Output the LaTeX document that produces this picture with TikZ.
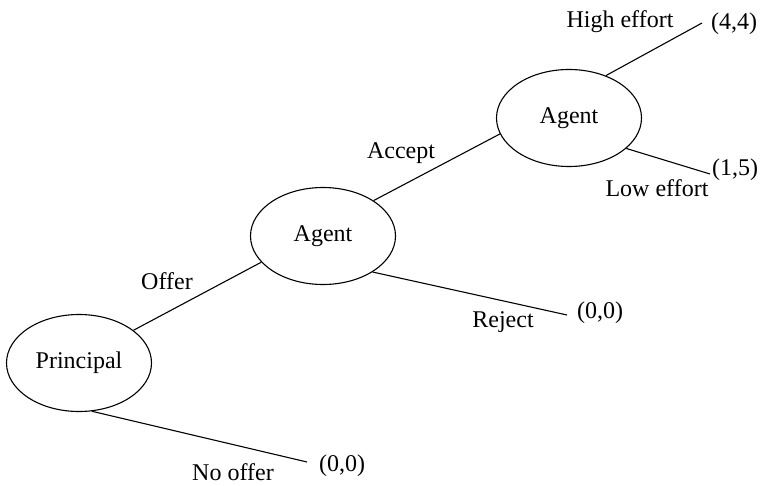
\documentclass[tikz,border=0pt]{standalone}
\usepackage{fontspec}
\setmainfont{Liberation Serif}
\usetikzlibrary{shapes.geometric}
\begin{document}
\begin{tikzpicture}[x=1pt,y=-1pt,
  player/.style={draw,ellipse,line width=1.1pt,minimum width=145pt,minimum height=97pt,inner sep=0pt},
  branch/.style={line width=1.1pt},
  lbl/.style={inner sep=0pt},
  every node/.style={font=\fontsize{24}{28}\selectfont}]
  \useasboundingbox (0,0) rectangle (767,486);

  % decision nodes
  \node[player] (P)  at (79,363)  {Principal};
  \node[player] (A1) at (323,236) {Agent};
  \node[player] (A2) at (569,118) {Agent};

  % terminal points of the branches
  \coordinate (noOfferEnd) at (307,462);
  \coordinate (rejectEnd)  at (567,315);
  \coordinate (highEnd)    at (702,23);
  \coordinate (lowEnd)     at (710,174);

  % branches
  \draw[branch] (P.31)   -- (A1.203);
  \draw[branch] (P.-75)  -- (noOfferEnd);
  \draw[branch] (A1.35)  -- (A2.193);
  \draw[branch] (A1.-36) -- (rejectEnd);
  \draw[branch] (A2.49)  -- (highEnd);
  \draw[branch] (A2.-28) -- (lowEnd);

  % action labels
  \node[lbl] (lOffer)   at (167,281) {Offer};
  \node[lbl] (lNoOffer) at (233,472) {No offer};
  \node[lbl] (lAccept)  at (401,153) {Accept};
  \node[lbl] (lReject)  at (503,322) {Reject};
  \node[lbl] (lHigh)    at (620,22)  {High effort};
  \node[lbl] (lLow)     at (657,188) {Low effort};

  % payoffs
  \node[lbl] (pNoOffer) at (342,466) {(0,0)};
  \node[lbl] (pReject)  at (600,313) {(0,0)};
  \node[lbl] (pHigh)    at (734,24)  {(4,4)};
  \node[lbl] (pLow)     at (735,170) {(1,5)};
\end{tikzpicture}
\end{document}
